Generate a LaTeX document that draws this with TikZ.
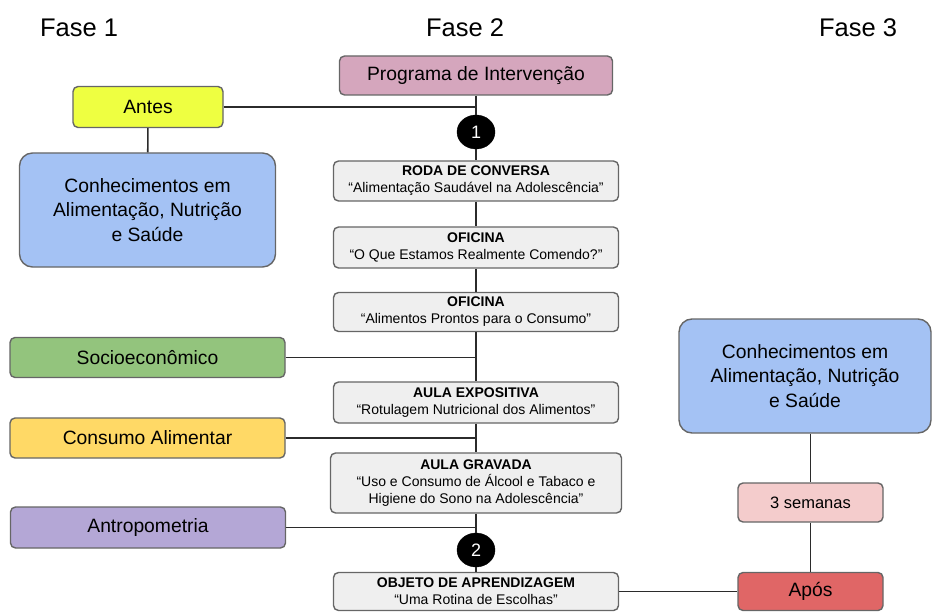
\documentclass[tikz,border=0pt]{standalone}
\usepackage{fontspec}
\setmainfont{Liberation Sans}
\usetikzlibrary{shapes.geometric}
\definecolor{bordc}{HTML}{666666}
\definecolor{linec}{HTML}{2B2B2B}
\definecolor{progc}{HTML}{D5A6BD}
\definecolor{antesc}{HTML}{EEFF41}
\definecolor{conc}{HTML}{A4C2F4}
\definecolor{grayc}{HTML}{EFEFEF}
\definecolor{socioc}{HTML}{93C47D}
\definecolor{consc}{HTML}{FFD966}
\definecolor{antroc}{HTML}{B4A7D6}
\definecolor{aposc}{HTML}{E06666}
\definecolor{semc}{HTML}{F4CCCC}
\tikzset{
  box/.style={draw=bordc, line width=1.4pt, rounded corners=5pt, inner sep=0pt, align=center, text=black},
  bigbox/.style={box, rounded corners=13pt, minimum width=256pt, minimum height=114pt, fill=conc, font=\fontsize{19.3}{24.5}\selectfont},
  sidebox/.style={box, minimum width=275pt, minimum height=40pt, font=\fontsize{19.3}{22}\selectfont},
  actbox/.style={box, fill=grayc, minimum width=285pt, font=\fontsize{14}{17}\selectfont},
  numc/.style={ellipse, fill=black, draw=black, minimum width=38pt, minimum height=34pt, inner sep=0pt, text=white, font=\fontsize{18}{18}\selectfont},
  fase/.style={font=\fontsize{25.5}{26}\selectfont},
  conn/.style={draw=linec, line width=1.6pt}
}
\begin{document}
\begin{tikzpicture}[x=1pt,y=-1pt]
\useasboundingbox (0,0) rectangle (933,612);
% phase titles
\node[fase] (f1) at (79,28) {Fase 1};
\node[fase] (f2) at (465,28) {Fase 2};
\node[fase] (f3) at (858,28) {Fase 3};
% column 2
\node[box, fill=progc, minimum width=273pt, minimum height=39pt, font=\fontsize{19.3}{22}\selectfont] (prog) at (476,75.5) {Programa de Intervenção};
\node[numc] (c1) at (476,132) {1};
\node[actbox, minimum height=40pt] (roda) at (476,181) {\textbf{RODA DE CONVERSA}\\“Alimentação Saudável na Adolescência”};
\node[actbox, minimum height=41pt] (of1) at (476,247.5) {\textbf{OFICINA}\\“O Que Estamos Realmente Comendo?”};
\node[actbox, minimum height=39pt] (of2) at (476,312) {\textbf{OFICINA}\\“Alimentos Prontos para o Consumo”};
\node[actbox, minimum height=41pt] (aula) at (476,402.5) {\textbf{AULA EXPOSITIVA}\\“Rotulagem Nutricional dos Alimentos”};
\node[actbox, minimum width=291pt, minimum height=60pt] (grav) at (476,483) {\textbf{AULA GRAVADA}\\“Uso e Consumo de Álcool e Tabaco e\\Higiene do Sono na Adolescência”};
\node[numc] (c2) at (476,550) {2};
\node[actbox, minimum height=38pt] (obj) at (476,591.5) {\textbf{OBJETO DE APRENDIZAGEM}\\“Uma Rotina de Escolhas”};
% column 1
\node[box, fill=antesc, minimum width=150pt, minimum height=41pt, font=\fontsize{19.3}{22}\selectfont] (antes) at (148,107) {Antes};
\node[bigbox] (con1) at (147.5,210) {Conhecimentos em\\Alimentação, Nutrição\\e Saúde};
\node[sidebox, fill=socioc] (socio) at (147.5,357.5) {Socioeconômico};
\node[sidebox, fill=consc] (cons) at (147.5,438) {Consumo Alimentar};
\node[sidebox, fill=antroc, minimum height=41pt] (antro) at (148,527.5) {Antropometria};
% column 3
\node[bigbox, minimum width=252pt] (con3) at (805,376) {Conhecimentos em\\Alimentação, Nutrição\\e Saúde};
\node[box, fill=semc, minimum width=145pt, minimum height=39pt, font=\fontsize{16.5}{20}\selectfont] (sem) at (810.5,502.5) {3 semanas};
\node[box, fill=aposc, minimum width=145pt, minimum height=38pt, font=\fontsize{19.3}{22}\selectfont] (apos) at (810.5,591.5) {Após};
% connectors
\draw[conn] (prog) -- (c1);
\draw[conn] (c1) -- (roda);
\draw[conn] (roda) -- (of1);
\draw[conn] (of1) -- (of2);
\draw[conn] (of2) -- (aula);
\draw[conn] (aula) -- (grav);
\draw[conn] (grav) -- (c2);
\draw[conn] (c2) -- (obj);
\draw[conn] (antes.east) -- (antes.east -| prog.south);
\draw[conn] (antes) -- (con1);
\draw[conn] (socio.east) -- (socio.east -| of2.south);
\draw[conn] (cons.east) -- (cons.east -| aula.south);
\draw[conn] (antro.east) -- (antro.east -| grav.south);
\draw[conn] (obj.east) -- (apos.west);
\draw[conn] (sem.north |- con3.south) -- (sem);
\draw[conn] (sem) -- (apos);
\end{tikzpicture}
\end{document}
